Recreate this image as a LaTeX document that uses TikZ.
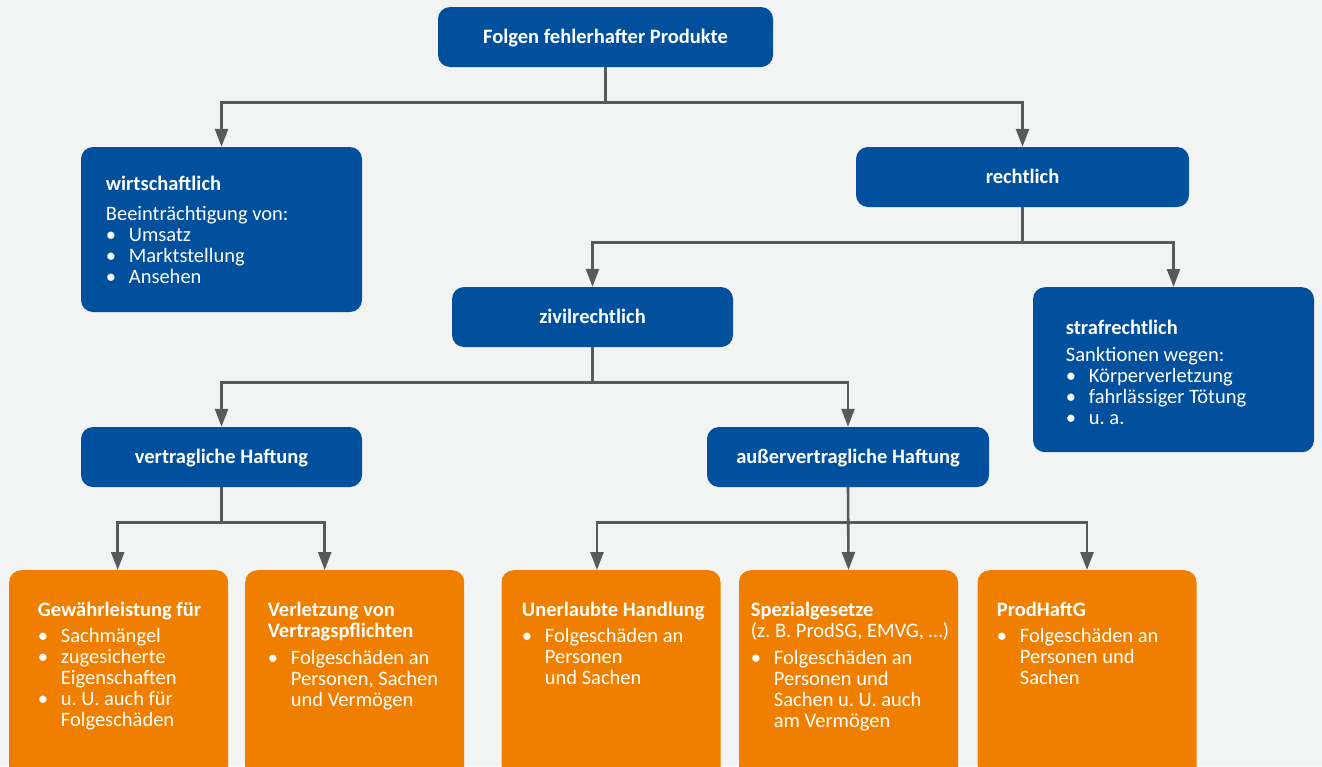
\documentclass[tikz,border=0pt]{standalone}
\usepackage{fontspec}
\setmainfont{Carlito}
\usetikzlibrary{arrows.meta}
\definecolor{myblue}{HTML}{00509E}
\definecolor{myorange}{HTML}{F07F00}
\definecolor{bgcol}{HTML}{F2F3F3}
\definecolor{linegray}{HTML}{58595B}
\frenchspacing
\newcommand\bl[1]{\makebox[23pt][l]{•}#1}
\newcommand\ind[1]{\hspace*{23pt}#1}
\newcommand\bodytext[1]{\parbox[t]{300pt}{\fontsize{20.5}{21}\selectfont\raggedright #1}}
\begin{document}
\begin{tikzpicture}[x=1pt,y=-1pt,
  bbox/.style={fill=myblue, rounded corners=12pt, inner sep=0pt, text=white,
    font=\fontsize{20.5}{21}\selectfont\bfseries, text height=14pt, text depth=2pt},
  obox/.style={fill=myorange, rounded corners=12pt, inner sep=0pt, anchor=north,
    minimum width=219pt, minimum height=230pt},
  txt/.style={anchor=base west, inner sep=0pt, text=white, font=\fontsize{20.5}{21}\selectfont},
  head/.style={txt, font=\fontsize{20.5}{21}\selectfont\bfseries},
  ln/.style={draw=linegray, line width=2.6pt},
  arr/.style={ln, -{Triangle[length=18pt,width=13pt]}}]
\useasboundingbox (0,0) rectangle (1322,766);
\fill[bgcol] (0,0) rectangle (1322,766);
\clip (0,0) rectangle (1322,766);

% blue boxes
\node[bbox, minimum width=335pt, minimum height=60pt] (top) at (605.5,37) {Folgen fehlerhafter Produkte};
\node[bbox, minimum width=281pt, minimum height=165pt] (wirt) at (221.5,229.5) {};
\node[bbox, minimum width=333pt, minimum height=60pt] (recht) at (1022.5,177) {rechtlich};
\node[bbox, minimum width=281pt, minimum height=60pt] (zivil) at (592.5,317) {zivilrechtlich};
\node[bbox, minimum width=281pt, minimum height=165pt] (straf) at (1173.5,369.7) {};
\node[bbox, minimum width=281pt, minimum height=60pt] (vert) at (221.5,457) {vertragliche Haftung};
\node[bbox, minimum width=282pt, minimum height=60pt] (ausser) at (848,457) {außervertragliche Haftung};

% orange boxes
\node[obox] (o1) at (118.7,570) {};
\node[obox] (o2) at (354.7,570) {};
\node[obox] (o3) at (611,570) {};
\node[obox] (o4) at (848.5,570) {};
\node[obox] (o5) at (1087,570) {};

% texts in blue boxes
\node[head] (wirth) at (105.7,190.7) {wirtschaftlich};
\node[txt] (wirtb) at (105.7,220) {\bodytext{Beeinträchtigung von:\\\bl{Umsatz}\\\bl{Marktstellung}\\\bl{Ansehen}}};
\node[head] (strafh) at (1065.7,334) {strafrechtlich};
\node[txt] (strafb) at (1065.7,361) {\bodytext{Sanktionen wegen:\\\bl{Körperverletzung}\\\bl{fahrlässiger Tötung}\\\bl{u. a.}}};

% texts in orange boxes
\node[head] (o1h) at (37.7,616) {Gewährleistung für};
\node[txt] (o1b) at (37.7,642.7) {\bodytext{\bl{Sachmängel}\\\bl{zugesicherte}\\\ind{Eigenschaften}\\\bl{u. U. auch für}\\\ind{Folgeschäden}}};
\node[head] (o2h) at (267.7,616) {\bodytext{\bfseries Verletzung von\\Vertragspflichten}};
\node[txt] (o2b) at (267.7,664) {\bodytext{\bl{Folgeschäden an}\\\ind{Personen, Sachen}\\\ind{und Vermögen}}};
\node[head] (o3h) at (521.7,616) {Unerlaubte Handlung};
\node[txt] (o3b) at (521.7,642.7) {\bodytext{\bl{Folgeschäden an}\\\ind{Personen}\\\ind{und Sachen}}};
\node[head] (o4h) at (750.7,616) {Spezialgesetze};
\node[txt] (o4s) at (750.7,637) {(z. B. ProdSG, EMVG, …)};
\node[txt] (o4b) at (750.7,664) {\bodytext{\bl{Folgeschäden an}\\\ind{Personen und}\\\ind{Sachen u. U. auch}\\\ind{am Vermögen}}};
\node[head] (o5h) at (996.7,616) {ProdHaftG};
\node[txt] (o5b) at (996.7,642.7) {\bodytext{\bl{Folgeschäden an}\\\ind{Personen und}\\\ind{Sachen}}};

% connectors
\coordinate (j1) at ([yshift=-35pt]top.south);
\draw[ln] (top.south) -- (j1);
\draw[arr] (j1) -| (wirt.north);
\draw[arr] (j1) -| (recht.north);

\coordinate (j2) at ([yshift=-35pt]recht.south);
\draw[ln] (recht.south) -- (j2);
\draw[arr] (j2) -| (zivil.north);
\draw[arr] (j2) -| (straf.north);

\coordinate (j3) at ([yshift=-35pt]zivil.south);
\draw[ln] (zivil.south) -- (j3);
\draw[arr] (j3) -| (vert.north);
\draw[arr] (j3) -| (ausser.north);

\coordinate (j4) at ([yshift=-35pt]vert.south);
\draw[ln] (vert.south) -- (j4);
\draw[arr] (j4) -| ([xshift=-1pt]o1.north);
\draw[arr] (j4) -| ([xshift=-30pt]o2.north);

\coordinate (j5) at ([yshift=-35pt]ausser.south);
\draw[arr] (ausser.south) -- (o4.north);
\draw[arr] (j5) -| ([xshift=-14pt]o3.north);
\draw[arr] (j5) -| (o5.north);
\end{tikzpicture}
\end{document}
